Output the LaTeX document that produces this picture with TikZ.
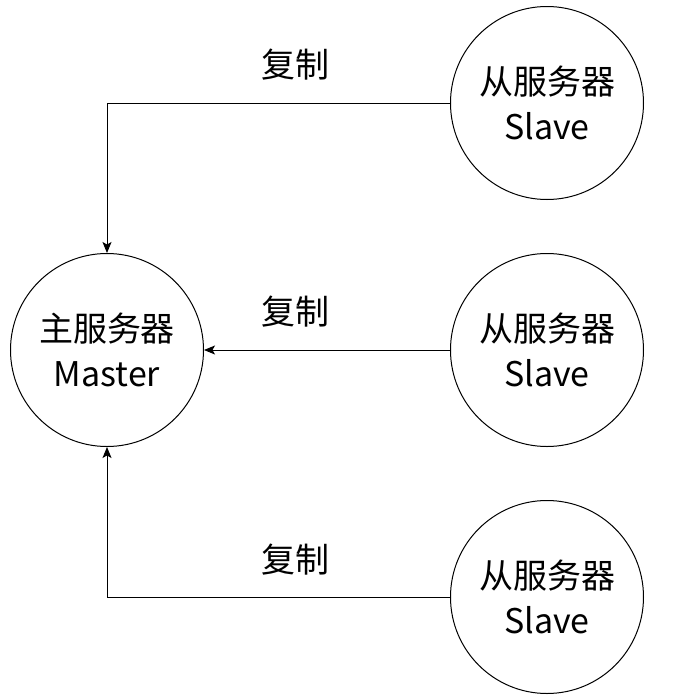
\documentclass[tikz,border=0pt]{standalone}
\usepackage{fontspec}
\newfontfamily\cjk{Noto Sans CJK SC}
\usetikzlibrary{arrows.meta}

\begin{document}
\begin{tikzpicture}[
    x=1pt, y=-1pt,
    server/.style={draw, circle, line width=1pt, minimum size=193pt,
                   inner sep=0pt, align=center,
                   font=\cjk\fontsize{34}{45}\selectfont},
    arr/.style={-{Stealth[length=11pt, width=9pt, inset=2.5pt]}, line width=1pt},
    lbl/.style={font=\cjk\fontsize{34}{40}\selectfont, inner sep=0pt},
]
\useasboundingbox (0,0) rectangle (675,697);

% ---- Servers ----
\node[server] (master) at (107,350) {主服务器\\Master};
\node[server] (slaveA) at (547,103) {从服务器\\Slave};
\node[server] (slaveB) at (547,350) {从服务器\\Slave};
\node[server] (slaveC) at (547,597) {从服务器\\Slave};

% ---- Replication ----
\draw[arr] (slaveA.west) -| (master.north);
\draw[arr] (slaveB.west) -- (master.east);
\draw[arr] (slaveC.west) -| (master.south);

\node[lbl] (copyA) at (295,65)  {复制};
\node[lbl] (copyB) at (295,312) {复制};
\node[lbl] (copyC) at (295,560) {复制};
\end{tikzpicture}
\end{document}
